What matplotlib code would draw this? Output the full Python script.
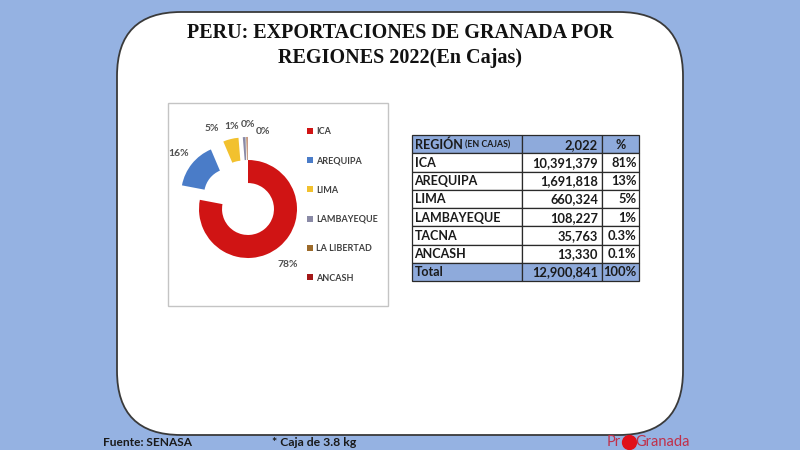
"""
PERU: exportaciones de granada por regiones 2022 — donut + tabla
"""
import matplotlib
matplotlib.use("Agg")
import matplotlib.pyplot as plt
from matplotlib.patches import FancyBboxPatch, Rectangle
import numpy as np

# --- datos del donut ---
pie_regions = ["ICA", "AREQUIPA", "LIMA", "LAMBAYEQUE", "LA LIBERTAD", "ANCASH"]
pie_share = [78.0, 15.6, 5.1, 0.9, 0.3, 0.1]
pie_colors = ["#d01414", "#4a7cc8", "#f2c12e", "#8a8aa6", "#9c6a2a", "#a31818"]

# --- datos de la tabla ---
tab_regions = ["ICA", "AREQUIPA", "LIMA", "LAMBAYEQUE", "TACNA", "ANCASH"]
tab_cajas = [10391379, 1691818, 660324, 108227, 35763, 13330]
tab_pct = ["81%", "13%", "5%", "1%", "0.3%", "0.1%"]
total_cajas = 12900841
total_pct = "100%"
year_label = "2,022"

BG = "#95b2e2"
SANS = ["Lato", "DejaVu Sans"]
INK = "#1a1a1a"

fig = plt.figure(figsize=(8, 4.5), dpi=100, facecolor=BG)
bg = fig.add_axes([0, 0, 1, 1])
bg.set_xlim(0, 800)
bg.set_ylim(450, 0)
bg.axis("off")
renderer = fig.canvas.get_renderer()


def right_edge(t):
    # borde derecho de un texto, en pixeles del eje de fondo
    bb = t.get_window_extent(renderer)
    return bg.transData.inverted().transform((bb.x1, bb.y0))[0]


# marco blanco redondeado
bg.add_patch(FancyBboxPatch((117, 12), 566, 423,
                            boxstyle="round,pad=0,rounding_size=64",
                            fc="white", ec="#3a3a3a", lw=1.3))

bg.text(400, 45.5, "PERU: EXPORTACIONES DE GRANADA POR\nREGIONES 2022(En Cajas)",
        ha="center", va="center", fontsize=14.5, fontweight="bold",
        family="Liberation Serif", linespacing=1.3, color="#111111")

# caja del grafico
bg.add_patch(Rectangle((168, 103), 220, 203, fc="white", ec="#c4c4c4", lw=1))

# --- donut ---
cx, cy, half = 248, 209, 80
ax = fig.add_axes([(cx - half) / 800, 1 - (cy + half) / 450, 2 * half / 800, 2 * half / 450])
ax.axis("off")
explode = [0, 0.47, 0.47, 0.47, 0.47, 0.47]
wedges, _ = ax.pie(pie_share, colors=pie_colors, startangle=90, counterclock=False,
                   explode=explode, wedgeprops=dict(width=0.47, linewidth=0))
lim = half / 49
ax.set_xlim(-lim, lim)
ax.set_ylim(-lim, lim)

label_r = [1.4, 1.82, 1.8, 1.72, 1.72, 1.62]
label_shift = [-4, 0, 10, 8, -1, -11]
for w, v, r, s in zip(wedges, pie_share, label_r, label_shift):
    ang = np.deg2rad((w.theta1 + w.theta2) / 2 + s)
    ax.text(r * np.cos(ang), r * np.sin(ang), f"{v:.0f}%", ha="center", va="center",
            fontsize=7.5, fontweight="bold", color="#4f4f4f", family=SANS)

fig.legend(wedges, pie_regions, loc="upper left",
           bbox_to_anchor=(307 / 800, 1 - 127 / 450), frameon=False,
           borderpad=0, borderaxespad=0,
           handlelength=0.65, handleheight=0.65, handletextpad=0.35,
           labelspacing=2.25, prop=dict(family=SANS, size=6.5, weight="bold"),
           labelcolor="#404040")

# --- tabla ---
col_x = [412, 522, 602, 639]
row_h = 18.25
top = 135
HEAD = "#8eaadb"
rows = [("REGIÓN", year_label, "%")]
rows += [(r, f"{c:,}", p) for r, c, p in zip(tab_regions, tab_cajas, tab_pct)]
rows += [("Total", f"{total_cajas:,}", total_pct)]
head_txt = None
for i, row in enumerate(rows):
    y0 = top + i * row_h
    fill = HEAD if i in (0, len(rows) - 1) else "white"
    for j in range(3):
        bg.add_patch(Rectangle((col_x[j], y0), col_x[j + 1] - col_x[j], row_h,
                               fc=fill, ec="#2a2a2a", lw=0.9))
    ym = y0 + row_h / 2 + 0.5
    t0 = bg.text(col_x[0] + 2.5, ym, row[0], ha="left", va="center", fontsize=9,
                 fontweight="bold", family=SANS, color=INK)
    if i == 0:
        head_txt = t0
    bg.text(col_x[2] - 4, ym, row[1], ha="right", va="center", fontsize=9.3,
            fontweight="bold", family=SANS, color=INK)
    if i == 0:
        bg.text((col_x[2] + col_x[3]) / 2, ym, row[2], ha="center", va="center",
                fontsize=9, fontweight="bold", family=SANS, color=INK)
    else:
        bg.text(col_x[3] - 2.5, ym, row[2], ha="right", va="center", fontsize=9.3,
                fontweight="bold", family=SANS, color=INK)
bg.text(right_edge(head_txt) + 3, top + row_h / 2 + 1.2, "(EN CAJAS)", ha="left",
        va="center", fontsize=6.3, fontweight="bold", family=SANS, color=INK)

# --- pie de pagina ---
bg.text(103, 443, "Fuente: SENASA", ha="left", va="center", fontsize=8.6,
        fontweight="bold", family=SANS, color=INK)
bg.text(272, 443, "* Caja de 3.8 kg", ha="left", va="center", fontsize=8.8,
        fontweight="bold", family=SANS, color=INK)
t_pr = bg.text(607, 442, "Pr", ha="left", va="center", fontsize=10.5, family=SANS,
               color="#c0304a")
x_dot = right_edge(t_pr) + 7.5
bg.plot([x_dot], [441.5], "o", ms=10, color="#e0101a")
bg.text(x_dot + 7, 442, "Granada", ha="left", va="center", fontsize=10.5, family=SANS,
        color="#c0304a")

fig.savefig("out.png", dpi=100, facecolor=BG)
